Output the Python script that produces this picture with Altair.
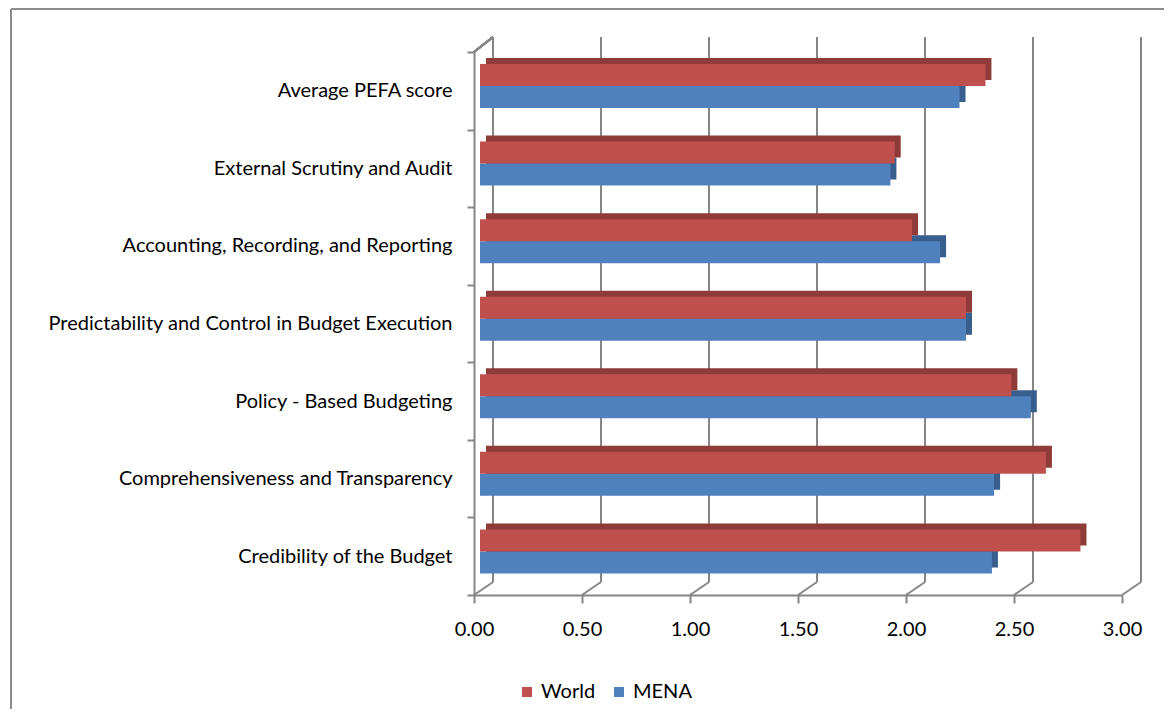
import altair as alt
import pandas as pd

categories = [
    "Average PEFA score",
    "External Scrutiny and Audit",
    "Accounting, Recording, and Reporting",
    "Predictability and Control in Budget Execution",
    "Policy - Based Budgeting ",
    "Comprehensiveness and Transparency",
    "Credibility of the Budget ",
]
world = [2.34, 1.92, 2.00, 2.25, 2.46, 2.62, 2.78]
mena = [2.22, 1.90, 2.13, 2.25, 2.55, 2.38, 2.37]
series_names = ["World", "MENA"]
series_colors = ["#C0504D", "#4F81BD"]
dark_colors = ["#8E3B39", "#375E8D"]
x_ticks = [0.0, 0.5, 1.0, 1.5, 2.0, 2.5, 3.0]

rows = []
for c, w, m in zip(categories, world, mena):
    rows.append({"category": c, "series": "World", "value": w})
    rows.append({"category": c, "series": "MENA", "value": m})
df = pd.DataFrame(rows)
grid_df = pd.DataFrame({"tick": x_ticks})

W, H = 648, 543
FONT = "Lato"
GRID = "#868686"
DX, DY = 19, -13

xscale = alt.Scale(domain=[0, 3], nice=False, zero=True)
yscale = alt.Scale(domain=categories, paddingInner=0, paddingOuter=0)

x_axis = alt.Axis(
    values=x_ticks,
    format=".2f",
    grid=False,
    labelFlush=False,
    domainColor=GRID,
    domainWidth=2,
    tickColor=GRID,
    tickWidth=2,
    tickSize=8,
    labelPadding=16,
    labelFontSize=20,
    labelFont=FONT,
    labelColor="#000000",
    title=None,
)
y_axis = alt.Axis(
    tickBand="extent",
    domainColor=GRID,
    domainWidth=2,
    tickColor=GRID,
    tickWidth=2,
    tickSize=7,
    labelPadding=15,
    labelFontSize=20,
    labelFont=FONT,
    labelColor="#000000",
    labelLimit=0,
    title=None,
)

base = alt.Chart(df)

# back-wall gridlines
grid = alt.Chart(grid_df).mark_rule(color=GRID, strokeWidth=2, xOffset=DX).encode(
    x=alt.X("tick:Q", scale=xscale, axis=x_axis),
    y=alt.value(-15),
    y2=alt.value(H + DY),
)
# floor diagonals
floor = alt.Chart(grid_df).mark_rule(color=GRID, strokeWidth=2, x2Offset=DX).encode(
    x=alt.X("tick:Q", scale=xscale, axis=x_axis),
    x2="tick:Q",
    y=alt.value(H),
    y2=alt.value(H + DY),
)
# left wall top diagonal
wall = alt.Chart(grid_df).mark_rule(color=GRID, strokeWidth=2).encode(
    x=alt.value(0), x2=alt.value(DX), y=alt.value(0), y2=alt.value(-15)
)

legend = alt.Legend(
    orient="none",
    direction="horizontal",
    legendX=43,
    legendY=630,
    title=None,
    symbolType="square",
    symbolSize=100,
    symbolStrokeWidth=0,
    labelFontSize=20,
    labelFont=FONT,
    labelColor="#000000",
    columnPadding=13,
    labelOffset=4,
)


def bars(series, yoff, dark):
    sel = base.transform_filter(alt.datum.series == series)
    back = sel.mark_bar(size=22, xOffset=12, yOffset=yoff - 6, color=dark).encode(
        x=alt.X("value:Q", scale=xscale, axis=x_axis),
        y=alt.Y("category:N", scale=yscale, sort=categories, axis=y_axis),
    )
    front = sel.mark_bar(size=22, xOffset=6, yOffset=yoff).encode(
        x=alt.X("value:Q", scale=xscale, axis=x_axis),
        y=alt.Y("category:N", scale=yscale, sort=categories, axis=y_axis),
        color=alt.Color(
            "series:N",
            scale=alt.Scale(domain=series_names, range=series_colors),
            legend=legend,
        ),
    )
    return back, front


m_back, m_front = bars("MENA", 6.2, dark_colors[1])
w_back, w_front = bars("World", -15.8, dark_colors[0])

border_top = alt.Chart(grid_df).mark_rule(color="#8C8C8C", strokeWidth=2).encode(
    x=alt.value(-463), x2=alt.value(700), y=alt.value(-43)
)
border_left = alt.Chart(grid_df).mark_rule(color="#8C8C8C", strokeWidth=2).encode(
    x=alt.value(-463), y=alt.value(-43), y2=alt.value(680)
)

chart = (
    alt.layer(grid, floor, wall, m_back, m_front, w_back, w_front, border_top, border_left)
    .resolve_scale(x="shared", y="shared")
    .properties(
        width=W,
        height=H,
        autosize="none",
        padding={"left": 466, "top": 44, "right": 42, "bottom": 114},
        background="#ffffff",
    )
    .configure_view(stroke=None)
)

chart.save("out.html", embed_options={"renderer": "svg", "actions": False})
